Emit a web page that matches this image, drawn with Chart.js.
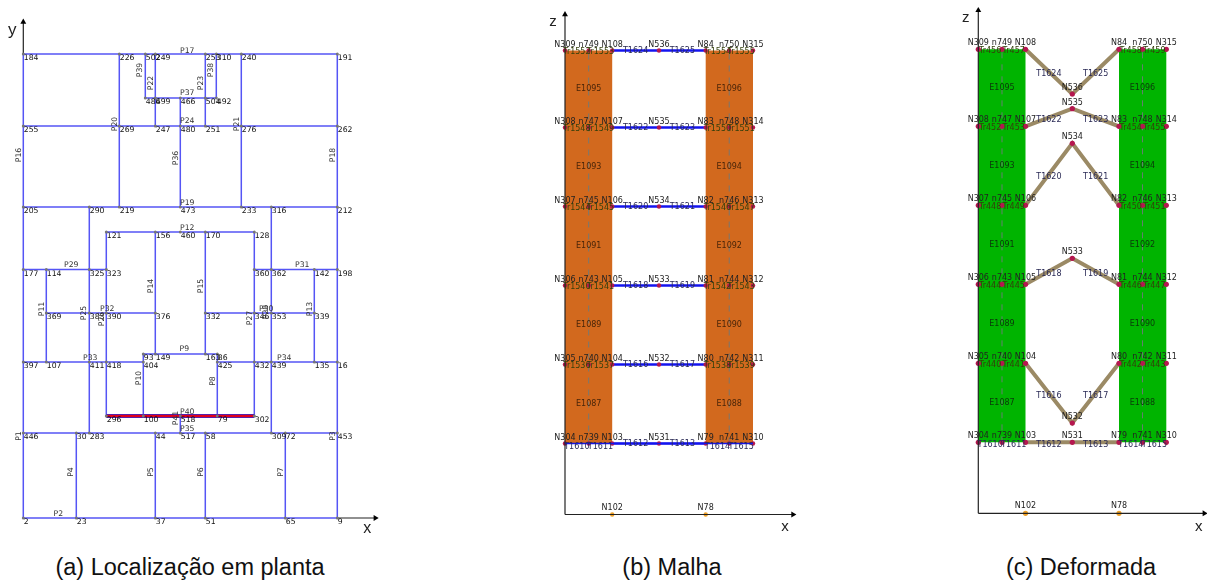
<!DOCTYPE html>
<html>
<head>
<meta charset="utf-8">
<script src="https://cdn.jsdelivr.net/npm/chart.js@4"></script>
<style>
  html, body { margin: 0; background: #fff; width: 1207px; height: 580px; overflow: hidden; }
  canvas { position: absolute; top: 0; filter: blur(0.3px); }
  .caption { position: absolute; top: 554px; font: 23.5px "Liberation Sans", sans-serif; color: #111; transform: translateX(-50%); white-space: nowrap; }
</style>
</head>
<body>
<canvas id="planta" width="385" height="545" style="left:0"></canvas>
<canvas id="malha" width="260" height="545" style="left:540px"></canvas>
<canvas id="deformada" width="257" height="545" style="left:950px"></canvas>
<div class="caption" style="left:190px">(a) Localização em planta</div>
<div class="caption" style="left:672px">(b) Malha</div>
<div class="caption" style="left:1081px">(c) Deformada</div>
<script>
// (a) plan: [level y, [[x, node], ...]]
var planNodes = [
  [464, [[0,'184'],[96,'226'],[122,'502'],[132,'249'],[182,'253'],[193,'310'],[218,'240'],[314,'191']]],
  [420, [[122,'486'],[132,'499'],[157,'466'],[182,'504'],[193,'492']]],
  [392, [[0,'255'],[96,'269'],[132,'247'],[157,'480'],[182,'251'],[218,'276'],[314,'262']]],
  [311, [[0,'205'],[66,'290'],[96,'219'],[157,'473'],[218,'233'],[248,'316'],[314,'212']]],
  [286, [[83,'121'],[132,'156'],[157,'460'],[182,'170'],[231,'128']]],
  [248.5, [[0,'177'],[23,'114'],[66,'325'],[83,'323'],[231,'360'],[248,'362'],[291,'142'],[314,'198']]],
  [205, [[23,'369'],[66,'383'],[83,'390'],[132,'376'],[182,'332'],[231,'346'],[248,'353'],[291,'339']]],
  [164, [[120,'93'],[132,'149'],[182,'163'],[194,'86']]],
  [156, [[0,'397'],[23,'107'],[66,'411'],[83,'418'],[120,'404'],[194,'425'],[231,'432'],[248,'439'],[291,'135'],[314,'16']]],
  [102, [[83,'296'],[120,'100'],[157,'518'],[194,'79'],[231,'302']]],
  [85, [[0,'446'],[53,'30'],[66,'283'],[132,'44'],[157,'517'],[182,'58'],[248,'309'],[262,'72'],[314,'453']]],
  [0, [[0,'2'],[53,'23'],[132,'37'],[182,'51'],[262,'65'],[314,'9']]]
];
// horizontal beams [y, x1, x2], vertical beams [x, y1, y2]
var planHorizontal = [
  [464,0,314],[420,122,193],[392,0,314],[311,0,314],[286,83,231],[248.5,0,83],[248.5,231,314],
  [205,23,132],[205,182,291],[164,120,194],[156,0,120],[156,194,314],[85,0,314],[0,0,314]
];
var planVertical = [
  [0,0,464],[23,156,248.5],[53,0,85],[66,85,311],[83,102,286],[96,311,464],[120,102,164],[122,420,464],
  [132,392,464],[132,164,286],[132,0,85],[157,311,420],[157,85,102],[182,392,464],[182,164,286],[182,0,85],
  [193,420,464],[194,102,164],[218,311,464],[231,102,286],[248,85,311],[262,0,85],[291,156,248.5],[314,0,464]
];
var planRedBeam = [102, 83, 231];
var planLabelsH = [
  ['P17',164,467],['P37',164,425],['P24',164,397],['P19',164,315],['P12',164,290],['P29',48,253],['P31',279,253],
  ['P32',84,209],['P30',243,209],['P9',161,169],['P33',67,160],['P34',261,160],['P40',164,106],['P35',164,89],['P2',35,4]
];
var planLabelsV = [
  ['P39',117,448],['P22',128,435],['P38',188,448],['P23',178,435],['P20',92,394],['P21',214,394],['P16',-4,363],
  ['P36',153,360],['P18',310,363],['P14',128,232],['P15',178,232],['P11',19,209],['P25',61,205],['P26',79,199],
  ['P27',227,200],['P28',243,206],['P13',287,209],['P10',116,140],['P8',190,137],['P41',153,100],['P1',-4,82],
  ['P3',310,82],['P4',48,46],['P5',128,46],['P6',178,46],['P7',258,46]
];

// (b) and (c) frame: columns across, floors upward
var frameColumns = [0, 23.7, 47.2, 94, 140.7, 164.2, 188];
var frameFloors = [71, 150, 229, 308, 387, 464];
var midspanDeformed = [71, 90.3, 255, 370, 404.6, 419.3];
var floorNodes = [
  ['N304','n739','N103','N531','N79','n741','N310'],
  ['N305','n740','N104','N532','N80','n742','N311'],
  ['N306','n743','N105','N533','N81','n744','N312'],
  ['N307','n745','N106','N534','N82','n746','N313'],
  ['N308','n747','N107','N535','N83','n748','N314'],
  ['N309','n749','N108','N536','N84','n750','N315']
];
var beamNames = [
  ['T1612','T1613'],['T1616','T1617'],['T1618','T1619'],['T1620','T1621'],['T1622','T1623'],['T1624','T1625']
];
var wallNamesLeft = ['E1087','E1089','E1091','E1093','E1095'];
var wallNamesRight = ['E1088','E1090','E1092','E1094','E1096'];
var trussMalha = [
  ['T1610','T1611','T1614','T1615'],['Tr1536','Tr1537','Tr1538','Tr1539'],['Tr1540','Tr1541','Tr1542','Tr1543'],
  ['Tr1544','Tr1545','Tr1546','Tr1547'],['Tr1548','Tr1549','Tr1550','Tr1551'],['Tr1552','Tr1553','Tr1554','Tr1555']
];
var trussDeformada = [
  ['T1610','T1611','T1614','T1615'],['Tr440','Tr441','Tr442','Tr443'],['Tr444','Tr445','Tr446','Tr447'],
  ['Tr448','Tr449','Tr450','Tr451'],['Tr452','Tr453','Tr454','Tr455'],['Tr456','Tr457','Tr458','Tr459']
];
var supportNames = ['N102', 'N78'];
var supportColumns = [47.2, 140.7];

// text drawn through the chart scales
var textPlugin = {
  id: 'textLabels',
  afterDatasetsDraw: function(chart) {
    var ctx = chart.ctx;
    var items = chart.config.options.plugins.textLabels.items;
    items.forEach(function(t) {
      var px = chart.scales.x.getPixelForValue(t.x);
      var py = chart.scales.y.getPixelForValue(t.y);
      ctx.save();
      ctx.translate(px, py);
      if (t.vertical) ctx.rotate(-Math.PI / 2);
      ctx.font = t.font || '7.7px "DejaVu Sans"';
      ctx.fillStyle = t.color || '#111';
      ctx.textAlign = t.align || 'center';
      ctx.textBaseline = 'middle';
      ctx.fillText(t.text, t.dx || 0, t.dy || 0);
      ctx.restore();
    });
  }
};

function line(points, color, width, extra) {
  var d = { data: points, showLine: true, borderColor: color, borderWidth: width, pointRadius: 0, tension: 0 };
  for (var k in extra) d[k] = extra[k];
  return d;
}

function axis(points, rotation) {
  return line(points, '#222', 1.2, {
    pointStyle: 'triangle', pointRadius: [0, 3.4], pointRotation: [0, rotation],
    pointBackgroundColor: '#000', pointBorderColor: '#000', pointBorderWidth: 0
  });
}

function draw(id, xMin, xMax, yMin, yMax, datasets, items) {
  return new Chart(document.getElementById(id), {
    type: 'scatter',
    data: { datasets: datasets },
    options: {
      responsive: false, animation: false,
      layout: { padding: 0, autoPadding: false },
      scales: {
        x: { type: 'linear', display: false, min: xMin, max: xMax },
        y: { type: 'linear', display: false, min: yMin, max: yMax }
      },
      plugins: { legend: { display: false }, tooltip: { enabled: false }, textLabels: { items: items } }
    },
    plugins: [textPlugin]
  });
}

// (a) Localização em planta
var planPoints = [], planLines = [], planText = [];
planNodes.forEach(function(row) {
  row[1].forEach(function(n) {
    planPoints.push({ x: n[0], y: row[0] });
    planText.push({ x: n[0], y: row[0], text: n[1], align: 'left', dx: 0.5, dy: 4.5 });
  });
});
planHorizontal.forEach(function(b) {
  planLines.push({ x: b[1], y: b[0] }, { x: b[2], y: b[0] }, { x: NaN, y: NaN });
});
planVertical.forEach(function(b) {
  planLines.push({ x: b[0], y: b[1] }, { x: b[0], y: b[2] }, { x: NaN, y: NaN });
});
planLabelsH.forEach(function(l) { planText.push({ x: l[1], y: l[2], text: l[0], color: '#333' }); });
planLabelsV.forEach(function(l) { planText.push({ x: l[1], y: l[2], text: l[0], vertical: true, color: '#333' }); });
planText.push({ x: -11, y: 488, text: 'y', font: '17px "Liberation Sans"', color: '#222' });
planText.push({ x: 344, y: -11, text: 'x', font: '16px "Liberation Sans"', color: '#222' });

var redStart = { x: planRedBeam[1], y: planRedBeam[0] }, redEnd = { x: planRedBeam[2], y: planRedBeam[0] };
draw('planta', -23.3, 361.7, -27, 518, [
  { data: planPoints, pointRadius: 1.5, pointBackgroundColor: '#777', pointBorderWidth: 0 },
  line([redStart, redEnd], '#e0001c', 2.4),
  line([redStart, redEnd], '#2a2ad8', 4),
  line(planLines, '#5555f5', 1.5),
  axis([{ x: 0, y: 464 }, { x: 0, y: 496 }], 0),
  axis([{ x: 314, y: 0 }, { x: 352, y: 0 }], 90)
], planText);

// shared builder for (b) and (c)
function frameDatasets(midspan, beamColor, beamWidth, wallColor, trussNames, nodeRadius, textColor) {
  var sets = [], text = [], nodes = [], beams = [];
  frameFloors.forEach(function(y, f) {
    var mid = midspan ? midspan[f] : y;
    frameColumns.forEach(function(x, c) {
      var ny = (c === 3) ? mid : y;
      nodes.push({ x: x, y: ny });
      text.push({ x: x, y: ny, text: floorNodes[f][c], dy: -6, font: '8px "DejaVu Sans"', color: '#222' });
    });
    var a = frameColumns[2], m = frameColumns[3], b = frameColumns[4];
    beams.push({ x: a, y: y }, { x: m, y: mid }, { x: b, y: y }, { x: NaN, y: NaN });
    text.push({ x: (a + m) / 2, y: (y + mid) / 2, text: beamNames[f][0], dy: midspan ? 2.5 : 0.5, font: '8px "DejaVu Sans"', color: '#2a2a55' });
    text.push({ x: (b + m) / 2, y: (y + mid) / 2, text: beamNames[f][1], dy: midspan ? 2.5 : 0.5, font: '8px "DejaVu Sans"', color: '#2a2a55' });
    // short labels over the wall cores
    [[0, 1], [1, 2], [4, 5], [5, 6]].forEach(function(p, i) {
      text.push({
        x: (frameColumns[p[0]] + frameColumns[p[1]]) / 2, y: y, text: trussNames[f][i],
        dy: f === 0 ? 3 : 1.5, font: '8px "DejaVu Sans"', color: f === 0 ? '#2a2a55' : '#34400c'
      });
    });
  });

  sets.push({ data: nodes, pointRadius: nodeRadius, pointBackgroundColor: '#b5174f', pointBorderWidth: 0 });
  sets.push({
    data: supportColumns.map(function(x) { return { x: x, y: 0 }; }),
    pointRadius: nodeRadius, pointBackgroundColor: '#eda028', pointBorderWidth: 0
  });
  sets.push(line(beams, beamColor, beamWidth));

  var top = frameFloors[frameFloors.length - 1], bottom = frameFloors[0];
  [frameColumns[1], frameColumns[5]].forEach(function(x) {
    sets.push(line([{ x: x, y: bottom }, { x: x, y: top }], '#6f7a7a', 0.9, { borderDash: [6, 6] }));
  });
  [[0, 2], [4, 6]].forEach(function(w) {
    var x1 = frameColumns[w[0]], x2 = frameColumns[w[1]];
    sets.push(line([{ x: x1, y: bottom }, { x: x2, y: bottom }, { x: x2, y: top }, { x: x1, y: top }],
      wallColor, 0, { fill: 'shape', backgroundColor: wallColor, borderWidth: 0 }));
  });

  wallNamesLeft.forEach(function(name, i) {
    var y = (frameFloors[i] + frameFloors[i + 1]) / 2;
    text.push({ x: frameColumns[1], y: y, text: name, font: '8px "DejaVu Sans"', color: textColor });
    text.push({ x: frameColumns[5], y: y, text: wallNamesRight[i], font: '8px "DejaVu Sans"', color: textColor });
  });
  supportColumns.forEach(function(x, i) {
    text.push({ x: x, y: 0, text: supportNames[i], dy: -7, font: '8px "DejaVu Sans"', color: '#222' });
  });
  return { sets: sets, text: text };
}

// (b) Malha
var malha = frameDatasets(null, '#1414f0', 2.4, '#d2691e', trussMalha, 2.2, '#4a2508');
malha.sets.unshift(line([
  { x: frameColumns[0], y: frameFloors[0] }, { x: frameColumns[6], y: frameFloors[0] }
], '#1414f0', 1.6));
malha.sets.unshift(axis([{ x: 0, y: 0 }, { x: 0, y: 500 }], 0), axis([{ x: 0, y: 0 }, { x: 228, y: 0 }], 90));
malha.text.push({ x: -12, y: 492.5, text: 'z', font: '15px "Liberation Sans"', color: '#222' });
malha.text.push({ x: 220, y: -12.5, text: 'x', font: '15px "Liberation Sans"', color: '#222' });
draw('malha', -25, 235, -30.5, 514.5, malha.sets, malha.text);

// (c) Deformada
var deformada = frameDatasets(midspanDeformed, '#9b8a65', 4, '#00b400', trussDeformada, 2.6, '#0a3a0a');
deformada.sets.unshift(axis([{ x: 0, y: 0 }, { x: 0, y: 503 }], 0), axis([{ x: 0, y: 0 }, { x: 226, y: 0 }], 90));
deformada.text.push({ x: -12.5, y: 495, text: 'z', font: '15px "Liberation Sans"', color: '#222' });
deformada.text.push({ x: 220.5, y: -13.5, text: 'x', font: '15px "Liberation Sans"', color: '#222' });
draw('deformada', -28.3, 228.7, -31.7, 513.3, deformada.sets, deformada.text);
</script>
</body>
</html>
